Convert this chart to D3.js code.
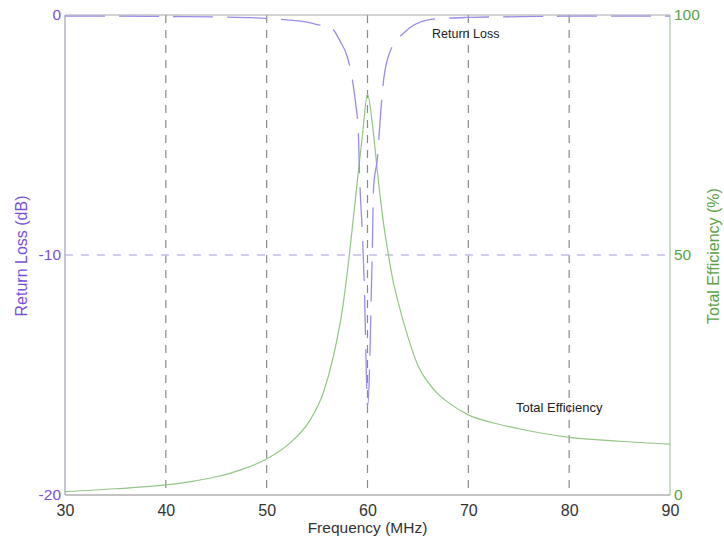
<!DOCTYPE html>
<html>
<head>
<meta charset="utf-8">
<script src="https://cdn.jsdelivr.net/npm/d3@7"></script>
<style>
  body { margin: 0; background: #fff; }
  svg { display: block; font-family: "Liberation Sans", Arial, sans-serif; }
</style>
</head>
<body>
<svg id="chart" width="724" height="541"></svg>
<script>
// ---- data ----
const rlFreq = [30, 35, 40, 45, 50, 52, 54, 55, 56.3, 57.3, 58.0, 58.5, 58.8, 59.1, 59.2, 59.5, 59.7, 59.9, 60.0, 60.2, 60.3, 60.5, 60.6, 61.0, 61.3, 61.6, 62.3, 63.6, 66, 68, 70, 75, 80, 85, 90];
const rlDb   = [-0.05, -0.05, -0.06, -0.08, -0.14, -0.2, -0.3, -0.4, -0.5, -1.1, -1.75, -2.7, -3.6, -5.0, -6.5, -9.2, -11.5, -15.2, -16.3, -14.8, -13, -9.3, -7.2, -5.9, -4.1, -2.7, -1.46, -0.75, -0.2, -0.13, -0.1, -0.07, -0.05, -0.05, -0.05];

const effFreq = [30, 35, 40, 42.5, 45, 47.5, 50, 52.3, 54.3, 55.6, 56.6, 57.5, 58.2, 59.0, 59.5, 60.0, 60.5, 61.0, 61.5, 62.0, 62.5, 63.0, 64.0, 65.0, 66.0, 67.0, 68.0, 70, 72.5, 75, 80, 85, 90];
const effPct = [0.7, 1.3, 2.1, 2.8, 3.8, 5.3, 7.5, 10.8, 15.6, 21.2, 28.7, 38.5, 50, 65.6, 75, 83.5, 77, 67, 58, 51, 45, 40.5, 33, 27, 23.5, 21, 19.3, 16.7, 15, 13.8, 12, 11.2, 10.6];

const xTicks = [30, 40, 50, 60, 70, 80, 90];
const yLeftTicks = [0, -10, -20];
const yRightTicks = [100, 50, 0];

// ---- layout ----
const L = 65, R = 670, T = 15, B = 495;
const svg = d3.select("#chart");

const x = d3.scaleLinear().domain([30, 90]).range([L, R]);
const yL = d3.scaleLinear().domain([-20, 0]).range([B, T]);
const yR = d3.scaleLinear().domain([0, 100]).range([B, T]);

const purple = "#7a4fd8";
const green = "#5aa244";
const fmt = d => String(d);

// vertical grid
svg.append("g").selectAll("line").data(xTicks.filter(d => d > 30 && d < 90)).join("line")
  .attr("x1", d => x(d)).attr("x2", d => x(d))
  .attr("y1", T).attr("y2", B)
  .attr("stroke", "#8a8a8a").attr("stroke-width", 1.2)
  .attr("stroke-dasharray", "8,7");

// horizontal grid at -10
svg.append("g").selectAll("line").data(yLeftTicks.filter(d => d === -10)).join("line")
  .attr("x1", L).attr("x2", R)
  .attr("y1", d => yL(d)).attr("y2", d => yL(d))
  .attr("stroke", "#c4bcec").attr("stroke-width", 1.5)
  .attr("stroke-dasharray", "8,8");

// frame
svg.append("line").attr("x1", L).attr("x2", R).attr("y1", T).attr("y2", T).attr("stroke", "#a8a8a8").attr("stroke-width", 1.2);
svg.append("line").attr("x1", L).attr("x2", R).attr("y1", B).attr("y2", B).attr("stroke", "#b0b0b0").attr("stroke-width", 1.5);
svg.append("line").attr("x1", L).attr("x2", L).attr("y1", T).attr("y2", B).attr("stroke", "#b4b0c4").attr("stroke-width", 1.5);
svg.append("line").attr("x1", R).attr("x2", R).attr("y1", T).attr("y2", B).attr("stroke", "#bcd0b6").attr("stroke-width", 1.5);

// efficiency curve
const effData = effFreq.map((f, i) => [f, effPct[i]]);
svg.append("path").datum(effData)
  .attr("fill", "none").attr("stroke", "#93c684").attr("stroke-width", 1.2)
  .attr("d", d3.line().x(d => x(d[0])).y(d => yR(d[1])).curve(d3.curveMonotoneX));

// return loss curve
const rlData = rlFreq.map((f, i) => [f, rlDb[i]]);
svg.append("path").datum(rlData)
  .attr("fill", "none").attr("stroke", "#9a8de6").attr("stroke-width", 1.3)
  .attr("stroke-dasharray", "40,14")
  .attr("d", d3.line().x(d => x(d[0])).y(d => yL(d[1])).curve(d3.curveMonotoneX));

// bottom axis labels
const gx = svg.append("g").attr("transform", `translate(0,${B})`)
  .call(d3.axisBottom(x).tickValues(xTicks).tickSize(0).tickPadding(10).tickFormat(fmt));
gx.select(".domain").remove();
gx.selectAll("text").attr("font-size", 16).attr("fill", "#333").attr("font-family", "Liberation Sans, Arial, sans-serif");

// left axis labels
const gl = svg.append("g").attr("transform", `translate(${L},0)`)
  .call(d3.axisLeft(yL).tickValues(yLeftTicks).tickSize(0).tickPadding(4).tickFormat(fmt));
gl.select(".domain").remove();
gl.selectAll("text").attr("font-size", 15.5).attr("fill", purple).attr("font-family", "Liberation Sans, Arial, sans-serif");

// right axis labels
const gr = svg.append("g").attr("transform", `translate(${R},0)`)
  .call(d3.axisRight(yR).tickValues(yRightTicks).tickSize(0).tickPadding(4).tickFormat(fmt));
gr.select(".domain").remove();
gr.selectAll("text").attr("font-size", 15.5).attr("fill", green).attr("font-family", "Liberation Sans, Arial, sans-serif");

// axis titles
svg.append("text").attr("x", (L + R) / 2).attr("y", 533).attr("text-anchor", "middle")
  .attr("font-size", 15.5).attr("fill", "#333").text("Frequency (MHz)");
svg.append("text").attr("transform", "translate(27,256) rotate(-90)").attr("text-anchor", "middle")
  .attr("font-size", 16).attr("fill", purple).text("Return Loss (dB)");
svg.append("text").attr("transform", "translate(719,256) rotate(-90)").attr("text-anchor", "middle")
  .attr("font-size", 16).attr("fill", green).text("Total Efficiency (%)");

// in-plot labels
svg.append("text").attr("x", 432).attr("y", 38).attr("font-size", 12.5).attr("fill", "#222").text("Return Loss");
svg.append("text").attr("x", 516).attr("y", 412).attr("font-size", 13).attr("fill", "#222").text("Total Efficiency");
</script>
</body>
</html>
